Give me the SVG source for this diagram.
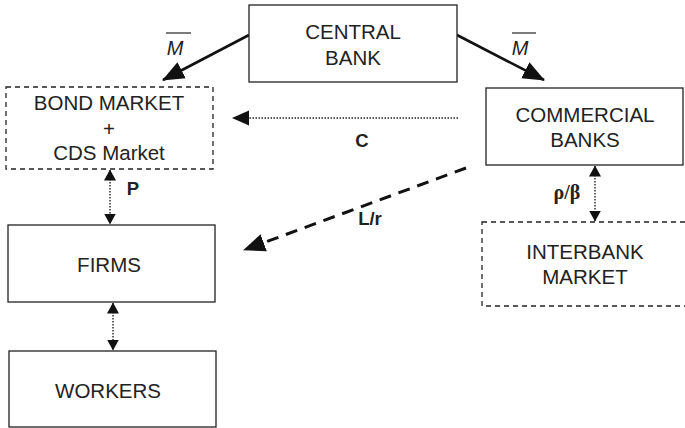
<svg xmlns="http://www.w3.org/2000/svg" width="685" height="428" viewBox="0 0 685 428">
<defs>
<style>
.box{fill:#fff;stroke:#222;stroke-width:1.3}
.dbox{fill:#fff;stroke:#222;stroke-width:1.3;stroke-dasharray:5,4}
.t{font-family:"Liberation Sans",Arial,sans-serif;font-size:20.5px;fill:#222;text-anchor:middle}
.lb{font-family:"Liberation Sans",Arial,sans-serif;font-size:18.5px;font-weight:bold;fill:#222;text-anchor:middle}
.gk{font-family:"Liberation Serif","Times New Roman",serif;font-size:20px;font-weight:bold;fill:#222;text-anchor:middle}
.m{font-family:"Liberation Sans",Arial,sans-serif;font-size:20px;font-style:italic;fill:#222;text-anchor:middle}
.solid{stroke:#111;stroke-width:2.6;fill:none}
.dot{stroke:#222;stroke-width:1.4;stroke-dasharray:1.5,1.5;fill:none}
.dash{stroke:#111;stroke-width:3;stroke-dasharray:12,8;fill:none}
</style>
<marker id="big" markerUnits="userSpaceOnUse" markerWidth="22" markerHeight="20" viewBox="0 0 22 20" refX="21" refY="10" orient="auto">
<path d="M0,1 L22,10 L0,19 Z" fill="#111"/>
</marker>
<marker id="med" markerUnits="userSpaceOnUse" markerWidth="17" markerHeight="16" viewBox="0 0 17 16" refX="16" refY="8" orient="auto">
<path d="M0,0.5 L17,8 L0,15.5 Z" fill="#111"/>
</marker>
<marker id="sm" markerUnits="userSpaceOnUse" markerWidth="11" markerHeight="12" viewBox="0 0 11 12" refX="10.5" refY="6" orient="auto-start-reverse">
<path d="M0,0 L11,6 L0,12 Z" fill="#111"/>
</marker>
</defs>
<g id="connectors">
<line class="solid" x1="249" y1="35" x2="163" y2="80" marker-end="url(#big)"/>
<line class="solid" x1="457" y1="35" x2="544" y2="80" marker-end="url(#big)"/>
<line class="dot" x1="458" y1="118" x2="233" y2="118" marker-end="url(#med)"/>
<line class="dash" x1="466" y1="168" x2="244" y2="250" marker-end="url(#big)"/>
<line class="dot" x1="110" y1="170" x2="110" y2="224" marker-start="url(#sm)" marker-end="url(#sm)"/>
<line class="dot" x1="595" y1="166" x2="595" y2="221" marker-start="url(#sm)" marker-end="url(#sm)"/>
<line class="dot" x1="113" y1="303" x2="113" y2="350" marker-start="url(#sm)" marker-end="url(#sm)"/>
<text class="m" x="175" y="55">M</text>
<line x1="166" y1="33" x2="191" y2="33" stroke="#222" stroke-width="1.2"/>
<text class="m" x="520" y="55">M</text>
<line x1="512" y1="33" x2="536" y2="33" stroke="#222" stroke-width="1.2"/>
<text class="lb" x="362" y="147">C</text>
<text class="lb" x="370" y="225">L/r</text>
<text class="lb" x="133" y="195">P</text>
<text class="gk" x="567" y="199">ρ/β</text>
</g>
<g id="central-bank">
<rect class="box" x="249" y="5" width="208" height="77"/>
<text class="t" x="353" y="39">CENTRAL</text>
<text class="t" x="353" y="65">BANK</text>
</g>
<g id="bond-market">
<rect class="dbox" x="6" y="87" width="207" height="82"/>
<text class="t" x="109" y="110">BOND MARKET</text>
<text class="t" x="109" y="136">+</text>
<text class="t" x="109" y="160">CDS Market</text>
</g>
<g id="commercial-banks">
<rect class="box" x="486" y="88" width="197" height="77"/>
<text class="t" x="585" y="122">COMMERCIAL</text>
<text class="t" x="585" y="147">BANKS</text>
</g>
<g id="interbank-market">
<rect class="dbox" x="482" y="222" width="210" height="84"/>
<text class="t" x="585" y="259">INTERBANK</text>
<text class="t" x="585" y="284">MARKET</text>
</g>
<g id="firms">
<rect class="box" x="8" y="225" width="207" height="77"/>
<text class="t" x="109" y="272">FIRMS</text>
</g>
<g id="workers">
<rect class="box" x="9" y="351" width="207" height="76"/>
<text class="t" x="108" y="398">WORKERS</text>
</g>
</svg>
